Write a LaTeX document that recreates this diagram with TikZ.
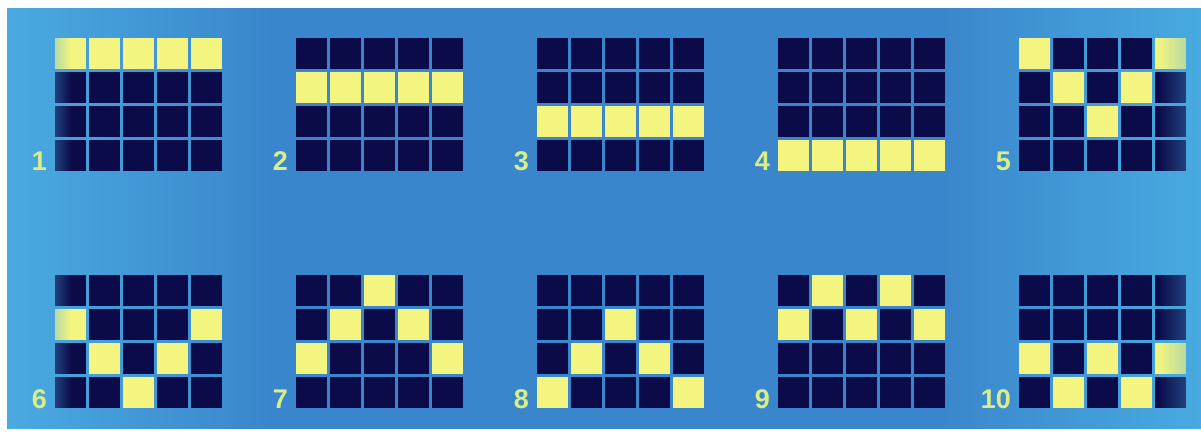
\documentclass[tikz,border=0pt]{standalone}
\usepackage{fontspec}
\setsansfont{Liberation Sans}
\usetikzlibrary{fadings}
\definecolor{navy}{HTML}{0C0B4A}
\definecolor{lit}{HTML}{F4F580}
\definecolor{lab}{HTML}{DAEE86}
\definecolor{bgL}{HTML}{4AAAE0}
\definecolor{bgM}{HTML}{3A86CC}
\definecolor{bgR}{HTML}{48AAE0}
\pgfdeclarehorizontalshading{bgshade}{100bp}{color(0bp)=(bgL); color(25bp)=(bgL); color(36bp)=(bgM); color(64bp)=(bgM); color(75bp)=(bgR); color(100bp)=(bgR)}
\tikzset{
  cellbox/.style={draw=none, inner sep=0pt, outer sep=0pt, minimum width=31pt, minimum height=31pt, anchor=north west},
  labtext/.style={text=lab, font=\sffamily\bfseries\fontsize{27}{27}\selectfont, anchor=base east, inner sep=0pt},
}
\begin{document}
\begin{tikzpicture}[x=1pt,y=-1pt]
\useasboundingbox (0,0) rectangle (1201,435);
\fill[white] (0,0) rectangle (1201,435);
\shade[shading=bgshade] (7,9) rectangle (1201,428);
\foreach \k/\cells in {
  1/{1/1,1/2,1/3,1/4,1/5},
  2/{2/1,2/2,2/3,2/4,2/5},
  3/{3/1,3/2,3/3,3/4,3/5},
  4/{4/1,4/2,4/3,4/4,4/5},
  5/{1/1,1/5,2/2,2/4,3/3},
  6/{2/1,2/5,3/2,3/4,4/3},
  7/{1/3,2/2,2/4,3/1,3/5},
  8/{2/3,3/2,3/4,4/1,4/5},
  9/{1/2,1/4,2/1,2/3,2/5},
  10/{3/1,3/3,3/5,4/2,4/4}}{
  \pgfmathsetmacro{\gx}{55+241*mod(\k-1,5)}
  \pgfmathsetmacro{\gy}{\k<6 ? 38 : 275}
  \foreach \r in {1,...,4}{
    \foreach \c in {1,...,5}{
      \node[cellbox, fill=navy] (g\k-\r-\c) at ({\gx+34*(\c-1)},{\gy+34*(\r-1)}) {};
    }
  }
  \foreach \r/\c in \cells{
    \node[cellbox, fill=lit] (y\k-\r-\c) at ({\gx+34*(\c-1)},{\gy+34*(\r-1)}) {};
  }
  \node[labtext] (l\k) at ({\gx-8},{\gy+133}) {\k};
}
% edge tint over outer columns
\foreach \k in {1,6}{
  \foreach \r in {1,...,4}{
    \fill[bgL, fill opacity=0.35, path fading=east] (g\k-\r-1.north west) rectangle ([xshift=16pt]g\k-\r-1.south west);
  }
}
\foreach \k in {5,10}{
  \foreach \r in {1,...,4}{
    \fill[bgR, fill opacity=0.35, path fading=west] ([xshift=-28pt]g\k-\r-5.north east) rectangle (g\k-\r-5.south east);
  }
}
\end{tikzpicture}
\end{document}
